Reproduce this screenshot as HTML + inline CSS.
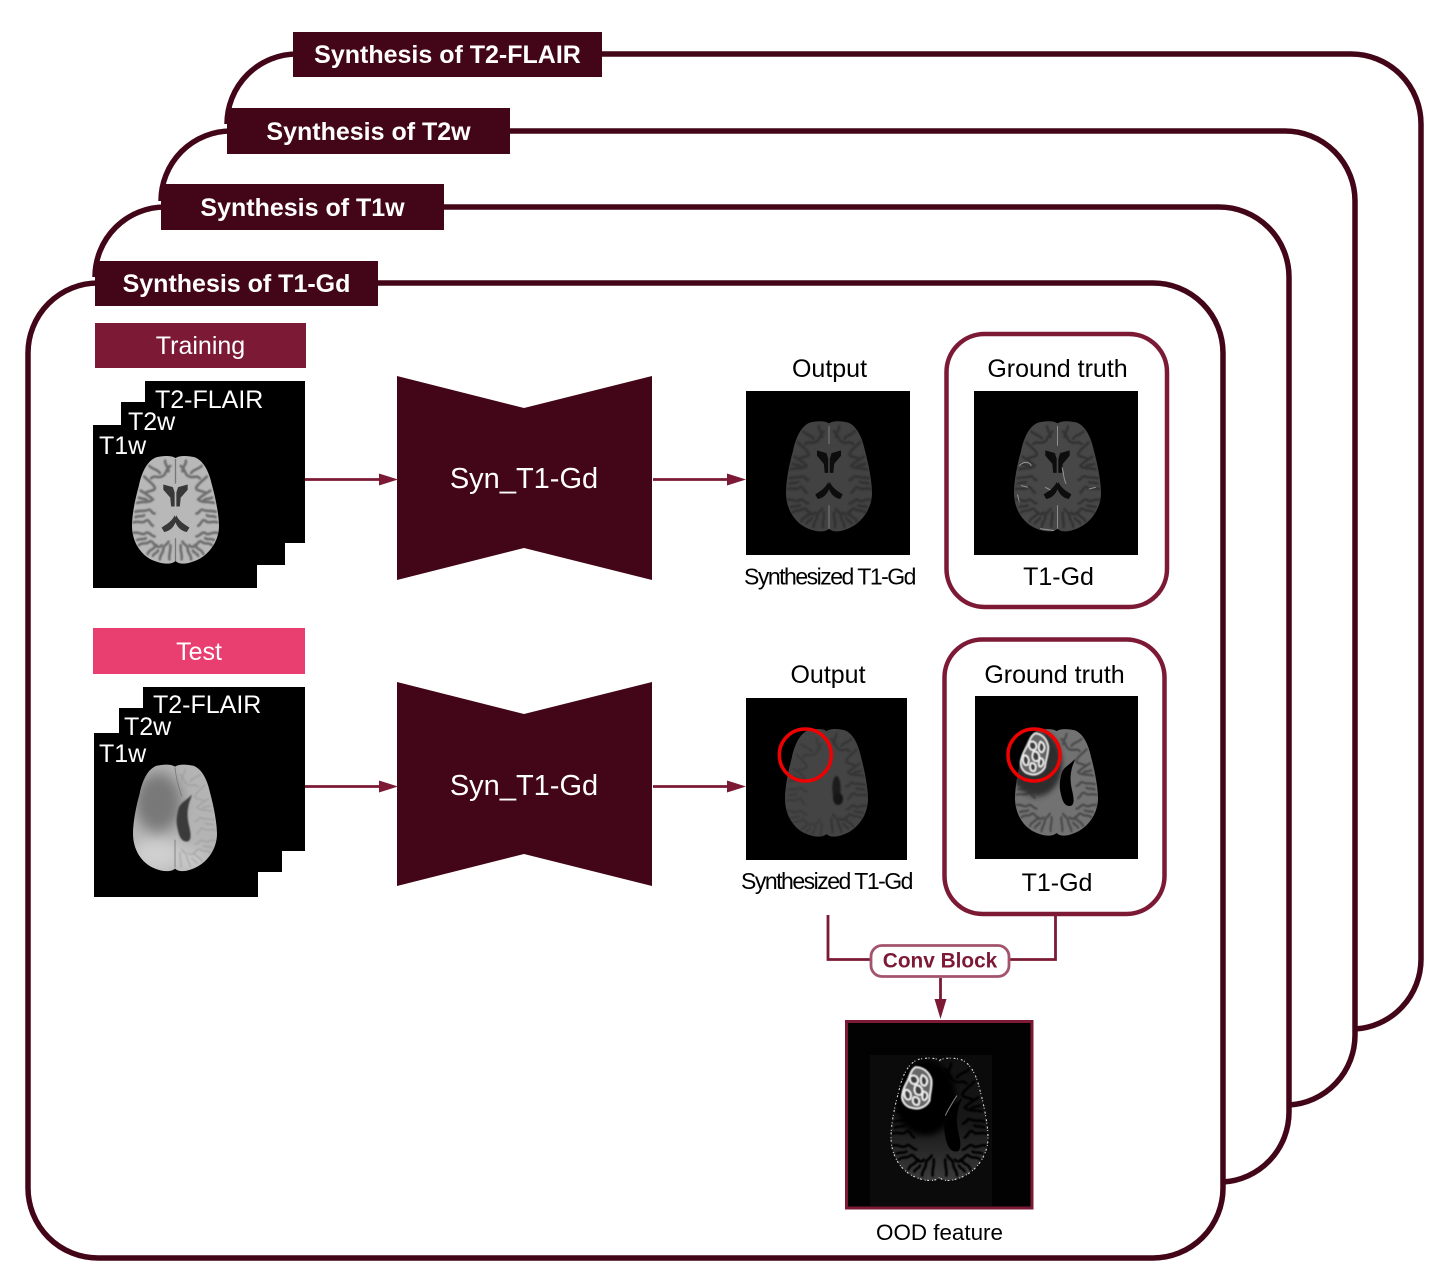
<!DOCTYPE html>
<html><head><meta charset="utf-8"><style>
html,body{margin:0;padding:0;background:#fff}
svg{display:block}
text{font-family:"Liberation Sans",Arial,sans-serif}
</style></head><body>
<svg xmlns="http://www.w3.org/2000/svg" width="1453" height="1284" viewBox="0 0 1453 1284">
<defs>
<filter id="f0" x="-20%" y="-20%" width="140%" height="140%"><feGaussianBlur stdDeviation="0.9"/></filter>
<filter id="f1" x="-20%" y="-20%" width="140%" height="140%"><feGaussianBlur stdDeviation="0.4"/></filter>
<filter id="f4" x="-20%" y="-20%" width="140%" height="140%"><feGaussianBlur stdDeviation="0.6"/></filter>
<filter id="f2" x="-30%" y="-30%" width="160%" height="160%"><feGaussianBlur stdDeviation="3"/></filter>
<filter id="f3" x="-40%" y="-40%" width="180%" height="180%"><feGaussianBlur stdDeviation="8"/></filter>
<path id="b" d="M0 -59C4 -62 14 -62 22 -60C33 -56 39 -42 42 -28C46 -14 50 6 50 18C50 36 38 52 22 58C12 62 4 62 0 58C-4 62 -14 62 -24 58C-40 52 -50 36 -50 18C-50 4 -46 -14 -42 -28C-39 -42 -33 -56 -22 -60C-14 -62 -4 -62 0 -59Z"/>
<clipPath id="cb"><use href="#b"/></clipPath>
<g id="sh" fill="none" stroke-linecap="round">
<path d="M6 -50C12 -46 10 -40 16 -38C20 -36 24 -40 28 -36"/>
<path d="M36 -38C30 -32 26 -30 24 -26C22 -22 30 -22 34 -20"/>
<path d="M40 -22C34 -18 30 -16 26 -12C30 -8 36 -10 44 -8"/>
<path d="M46 2C40 0 36 2 32 0C28 -2 28 4 24 4"/>
<path d="M48 14C42 12 38 16 34 12C30 10 30 16 26 18"/>
<path d="M48 26C42 24 38 30 34 26C30 24 28 30 24 30"/>
<path d="M42 40C38 36 34 40 30 36C26 34 26 40 22 40"/>
<path d="M32 50C30 44 26 46 24 42C22 40 18 44 16 40"/>
<path d="M18 56C18 50 14 50 14 44C14 40 10 40 8 36"/>
<path d="M7 56C8 50 5 46 6 40"/>
<path d="M30 -50C26 -46 20 -46 18 -42"/>
<path d="M42 -14C38 -12 34 -14 32 -10"/>
<path d="M46 8C42 6 38 8 36 6"/>
<path d="M44 34C40 32 36 34 34 32"/>
<path d="M26 52C24 48 22 50 20 46"/>
<path d="M12 -56C12 -50 8 -50 8 -44"/>
</g>
<g id="s"><use href="#sh"/><use href="#sh" transform="scale(-1,1)"/></g>
<g id="v">
<path d="M-14 -29L-3 -26L-1 -20L-1 -4L-5 -4L-6 -14L-14 -23Z"/>
<path d="M14 -29L3 -26L1 -20L1 -4L5 -4L6 -14L14 -23Z"/>
<path d="M-1 6C-4 13 -10 16 -16 20L-13 25C-6 24 -1 19 1 11Z"/>
<path d="M1 6C4 13 10 16 16 20L13 25C6 24 1 19 -1 11Z"/>
</g>
<path id="tv" d="M20 -27C14 -20 6 -18 4 -10C2 -2 1 4 3 12C5 22 8 27 14 27C20 27 19 18 17 10C15 2 14 -6 16 -14C17 -20 20 -24 20 -27Z"/>
<g id="tumor" fill="none">
<path d="M-4 -21C3 -22 9 -18 12 -11C14 -3 12 4 13 10C11 17 4 21 -2 20C-9 20 -14 14 -13 7C-13 0 -10 -4 -9 -10C-8 -15 -7 -19 -4 -21Z" fill="#666" stroke="#e2e2e2" stroke-width="2"/>
<path d="M-8 -11C-3 -15 2 -9 -1 -5C-5 -2 -9 -6 -8 -11ZM3 -14C8 -13 10 -8 7 -4C3 -3 1 -9 3 -14ZM-2 -3C3 -4 6 0 5 5C1 8 -4 5 -2 -3ZM6 2C10 2 12 6 9 10C6 12 5 7 6 2ZM-11 3C-7 2 -4 6 -5 11C-8 15 -13 9 -11 3ZM-2 9C2 8 5 11 3 16C-1 18 -4 13 -2 9Z" fill="#3c3c3c" stroke="#ececec" stroke-width="1.800"/>
</g>
<linearGradient id="og" x1="0" y1="0" x2="0" y2="1"><stop offset="0" stop-color="#101010"/><stop offset=".55" stop-color="#181818"/><stop offset="1" stop-color="#3c3c3c"/></linearGradient>
</defs>

<rect width="1453" height="1284" fill="#fff"/>

<g fill="none" stroke="#430619" stroke-width="5.500">
<path d="M227 124A70 70 0 0 1 297 54H1351A70 70 0 0 1 1421 124V959A70 70 0 0 1 1355 1029"/>
<path d="M161 201A70 70 0 0 1 231 131H1285A70 70 0 0 1 1355 201V1035A70 70 0 0 1 1289 1105"/>
<path d="M95 277A70 70 0 0 1 165 207H1219A70 70 0 0 1 1289 277V1112A70 70 0 0 1 1223 1182"/>
<rect x="28" y="283" width="1195" height="975" rx="70" ry="70"/>
</g>

<g fill="#430619">
<rect x="293" y="32" width="309" height="45"/>
<rect x="227" y="108" width="283" height="46"/>
<rect x="161" y="184" width="283" height="46"/>
<rect x="95" y="261" width="283" height="45"/>
</g>
<g fill="#fff" font-size="25" font-weight="700">
<text x="447.500" y="63" text-anchor="middle">Synthesis of T2-FLAIR</text>
<text x="368.500" y="140" text-anchor="middle">Synthesis of T2w</text>
<text x="302.500" y="216" text-anchor="middle">Synthesis of T1w</text>
<text x="236.500" y="292" text-anchor="middle">Synthesis of T1-Gd</text>
</g>

<rect x="95" y="323" width="211" height="45" fill="#7c1a36"/>
<text x="200.500" y="354" text-anchor="middle" fill="#fff" font-size="25">Training</text>
<rect x="93" y="628" width="212" height="46" fill="#e83e70"/>
<text x="199" y="660" text-anchor="middle" fill="#fff" font-size="25">Test</text>

<!-- training stack -->
<rect x="145" y="381" width="160" height="162" fill="#000"/>
<rect x="121" y="402" width="164" height="163" fill="#000"/>
<rect x="93" y="425" width="164" height="163" fill="#000"/>
<g fill="#fff" font-size="25">
<text x="155" y="408">T2-FLAIR</text><text x="128" y="430">T2w</text><text x="99" y="454">T1w</text>
</g>
<g transform="translate(175.500,510) scale(.87,.88)">
<use href="#b" fill="#b8b8b8"/>
<g clip-path="url(#cb)"><use href="#s" stroke="#6e6e6e" stroke-width="3" filter="url(#f0)"/></g>
<path d="M0 -58V-30M0 32V58" stroke="#777" stroke-width="1.500"/>
<use href="#v" fill="#383838" filter="url(#f1)"/>
</g>

<!-- test stack -->
<rect x="143" y="687" width="162" height="164" fill="#000"/>
<rect x="119" y="708" width="163" height="164" fill="#000"/>
<rect x="94" y="733" width="164" height="164" fill="#000"/>
<g fill="#fff" font-size="25">
<text x="153" y="713">T2-FLAIR</text><text x="124" y="735">T2w</text><text x="99" y="762">T1w</text>
</g>
<g transform="translate(175,818) scale(.84,.87)">
<use href="#b" fill="#b4b4b4"/>
<g clip-path="url(#cb)">
<ellipse cx="-22" cy="42" rx="30" ry="20" fill="#cfcfcf" filter="url(#f3)"/>
<ellipse cx="18" cy="48" rx="20" ry="12" fill="#cacaca" filter="url(#f3)"/>
<ellipse cx="-20" cy="-18" rx="28" ry="34" fill="#787878" filter="url(#f3)"/>
<g stroke="#8e8e8e" stroke-width="1.500" filter="url(#f0)" opacity=".5"><use href="#sh"/></g>
</g>
<path d="M0 -58C2 -40 6 -32 8 -25M0 25V57" stroke="#777" stroke-width="1" fill="none"/>
<use href="#tv" fill="#3a3a3a" filter="url(#f0)"/>
</g>

<!-- hourglasses -->
<g fill="#430619">
<polygon points="397,376 524,408 652,376 652,580 524,548 397,580"/>
<polygon points="397,682 524,714 652,682 652,886 524,854 397,886"/>
</g>
<g fill="#fff" font-size="29" text-anchor="middle">
<text x="524" y="488">Syn_T1-Gd</text><text x="524" y="795">Syn_T1-Gd</text>
</g>

<!-- arrows -->
<g stroke="#7c1a36" stroke-width="2.800" fill="none">
<path d="M305 479.500H382M653 479.500H730M305 786.500H382M653 786.500H730"/>
<path d="M828 915V959.500H870M1055.500 914V959.500H1009"/>
<path d="M940.500 978V1001"/>
</g>
<g fill="#7c1a36">
<polygon points="379,473.500 398,479.500 379,485.500"/><polygon points="727,473.500 746,479.500 727,485.500"/>
<polygon points="379,780.500 398,786.500 379,792.500"/><polygon points="727,780.500 746,786.500 727,792.500"/>
<polygon points="934.500,999 946.500,999 940.500,1019"/>
</g>

<!-- ground truth boxes -->
<g fill="none" stroke="#7c1a36" stroke-width="4.500">
<rect x="946.500" y="334" width="220.500" height="273" rx="38"/>
<rect x="944.500" y="639.500" width="220" height="274.500" rx="38"/>
</g>

<!-- top images -->
<rect x="746" y="391" width="164" height="164" fill="#000"/>
<g transform="translate(829,476.500) scale(.86,.9)">
<use href="#b" fill="#424242"/>
<g clip-path="url(#cb)"><use href="#s" stroke="#333" stroke-width="3.200" filter="url(#f0)"/></g>
<path d="M0 -56V-36M0 32V58" stroke="#888" stroke-width="1"/>
<use href="#v" fill="#111" filter="url(#f1)"/>
</g>
<rect x="974" y="391" width="164" height="164" fill="#000"/>
<g transform="translate(1057.500,476.500) scale(.87,.9)">
<use href="#b" fill="#474747"/>
<g clip-path="url(#cb)"><use href="#s" stroke="#333" stroke-width="2.800" filter="url(#f0)"/></g>
<path d="M0 -56V-34M0 32V58" stroke="#999" stroke-width="1"/>
<use href="#v" fill="#111" filter="url(#f1)"/>
<path d="M5 -10C8 -4 6 2 10 8M-14 12L-8 15M-44 -12C-38 -18 -32 -16 -30 -12M-42 10L-34 12M36 14L44 12M-46 20L-44 28M-20 58L-4 60" fill="none" stroke="#bbb" stroke-width="1" opacity=".75"/>
</g>

<!-- test images -->
<rect x="746" y="698" width="161" height="162" fill="#000"/>
<g transform="translate(826.500,783) scale(.83,.88)">
<use href="#b" fill="#444"/>
<g clip-path="url(#cb)">
<use href="#sh" stroke="#363636" stroke-width="2.800" filter="url(#f0)"/>
<use href="#sh" stroke="#3a3a3a" stroke-width="2.800" transform="scale(-1,1) translate(0,6)" filter="url(#f0)"/>
</g>
<ellipse cx="12" cy="6" rx="5" ry="14" fill="#1e1e1e" filter="url(#f0)"/>
<ellipse cx="14" cy="18" rx="6" ry="7" fill="#161616" filter="url(#f0)"/>
</g>
<rect x="975" y="696" width="163" height="163" fill="#000"/>
<g transform="translate(1056.500,782.500) scale(.83,.87)">
<use href="#b" fill="#727272"/>
<g clip-path="url(#cb)">
<use href="#s" stroke="#4a4a4a" stroke-width="2.600" filter="url(#f0)"/>
<ellipse cx="-24" cy="-22" rx="31" ry="38" fill="#2e2e2e" filter="url(#f2)"/>
</g>
<use href="#tv" fill="#050505" transform="translate(2,0)" filter="url(#f1)"/>
<use href="#tumor" transform="translate(-26,-32) rotate(12) scale(1.150,1.150)" filter="url(#f4)"/>
</g>
<g fill="none" stroke="#f00000" stroke-width="3.500">
<circle cx="805.300" cy="755" r="26"/>
<circle cx="1034" cy="755" r="26"/>
</g>

<!-- labels -->
<g fill="#000" font-size="25" text-anchor="middle">
<text x="829.500" y="377">Output</text>
<text x="1057.500" y="377">Ground truth</text>
<text x="1058.500" y="585">T1-Gd</text>
<text x="828" y="683">Output</text>
<text x="1054.500" y="683">Ground truth</text>
<text x="1057" y="891">T1-Gd</text>
</g>
<g fill="#000" font-size="23" letter-spacing="-1.500">
<text x="744" y="584.500">Synthesized T1-Gd</text>
<text x="741" y="889">Synthesized T1-Gd</text>
</g>

<!-- conv block -->
<rect x="871" y="945.500" width="138" height="31" rx="11" fill="#fff" stroke="#a3546c" stroke-width="2.800"/>
<text x="940" y="967.500" text-anchor="middle" fill="#7c1a36" font-size="20.800" font-weight="700">Conv Block</text>

<!-- OOD -->
<rect x="846.500" y="1021.500" width="185.500" height="186.500" fill="#020202" stroke="#7c1a36" stroke-width="3"/>
<rect x="870" y="1055" width="122" height="151" fill="#0b0b0b"/>
<g transform="translate(939.500,1119.500) scale(.97,1)">
<use href="#b" fill="url(#og)"/>
<g clip-path="url(#cb)">
<use href="#s" stroke="#050505" stroke-width="2.600" filter="url(#f0)"/>
<ellipse cx="-15" cy="-22" rx="32" ry="38" fill="#010101" filter="url(#f2)"/>
</g>
<use href="#tv" fill="#000" transform="translate(3,5)"/>
<path d="M6 -4C10 -12 14 -18 18 -24" stroke="#888" stroke-width="1" fill="none"/>
<use href="#b" fill="none" stroke="#d8d8d8" stroke-width="1.100" stroke-dasharray="2 1.500 1 3"/>
<use href="#tumor" transform="translate(-23,-31) rotate(8) scale(1.100,1)" filter="url(#f4)"/>
</g>
<text x="939.500" y="1240" text-anchor="middle" fill="#000" font-size="22.400">OOD feature</text>
</svg>
</body></html>
